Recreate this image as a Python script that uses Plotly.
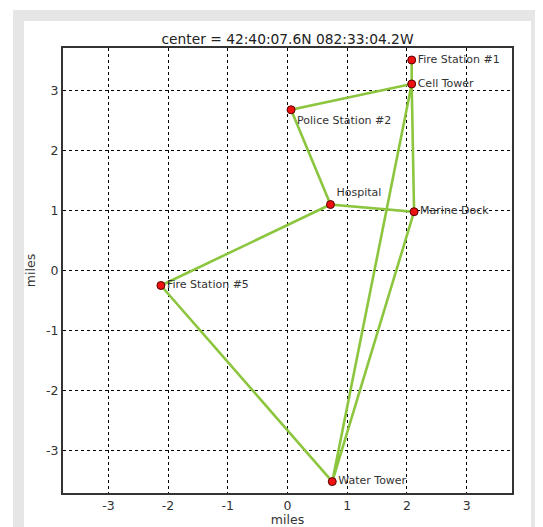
import plotly.graph_objects as go

names = ["Fire Station #1", "Cell Tower", "Police Station #2", "Hospital",
         "Marine Dock", "Fire Station #5", "Water Tower"]
xs = [2.08, 2.08, 0.06, 0.72, 2.12, -2.12, 0.75]
ys = [3.51, 3.11, 2.68, 1.10, 0.98, -0.25, -3.52]
label_pos = ["middle right", "middle right", "bottom right", "top right",
             "middle right", "middle right", "middle right"]

tick_vals = [-3, -2, -1, 0, 1, 2, 3]
tick_text = ["-3", "-2", "-1", "0", "1", "2", "3"]

# route segments as index pairs
route_a = [0, 1, 2, 3, 4, 1, 6, 4]
route_b = [3, 5, 6]

lx, ly = [], []
for r in (route_a, route_b):
    lx += [xs[i] for i in r] + [None]
    ly += [ys[i] for i in r] + [None]

fig = go.Figure()
fig.add_trace(go.Scatter(x=lx, y=ly, mode="lines",
                         line=dict(color="#8cc63f", width=2.6),
                         hoverinfo="skip", showlegend=False))
fig.add_trace(go.Scatter(x=xs, y=ys, mode="markers+text",
                         text=names,
                         textposition=label_pos,
                         textfont=dict(family="DejaVu Sans", size=11, color="#333333"),
                         marker=dict(color="#ee1111", size=8,
                                     line=dict(color="#550000", width=1)),
                         showlegend=False))

fig.add_shape(type="rect", xref="paper", yref="paper", x0=-0.1114, x1=1.09,
              y0=-0.2, y1=1.0854, fillcolor="#e6e6e6", line=dict(width=0), layer="below")
fig.add_shape(type="rect", xref="paper", yref="paper", x0=-0.0869, x1=1.0423,
              y0=-0.2, y1=1.0607, fillcolor="white", line=dict(width=0), layer="below")

axis_common = dict(showgrid=True, gridcolor="black", griddash="dot", gridwidth=1,
                   zeroline=False, showline=True, linecolor="#333333", linewidth=2,
                   mirror=True, ticks="", automargin=False,
                   tickmode="array", tickvals=tick_vals, ticktext=tick_text,
                   tickfont=dict(family="DejaVu Sans", size=12.5, color="#333333"),
                   title_font=dict(family="DejaVu Sans", size=12.5, color="#333333"))

fig.update_layout(
    width=535, height=519,
    margin=dict(l=55, r=31, t=40, b=34),
    paper_bgcolor="white", plot_bgcolor="white",
    title=dict(text="center = 42:40:07.6N 082:33:04.2W", x=0.5, xref="paper",
               y=1, yref="paper", yanchor="bottom", pad=dict(b=4),
               font=dict(family="DejaVu Sans", size=13.8, color="#222222"),
               automargin=False),
    xaxis=dict(range=[-3.76, 3.76], title=dict(text="miles", standoff=1), **axis_common),
    yaxis=dict(range=[-3.71, 3.71], title=dict(text="miles", standoff=8), **axis_common),
)

fig.write_html("out.html")
